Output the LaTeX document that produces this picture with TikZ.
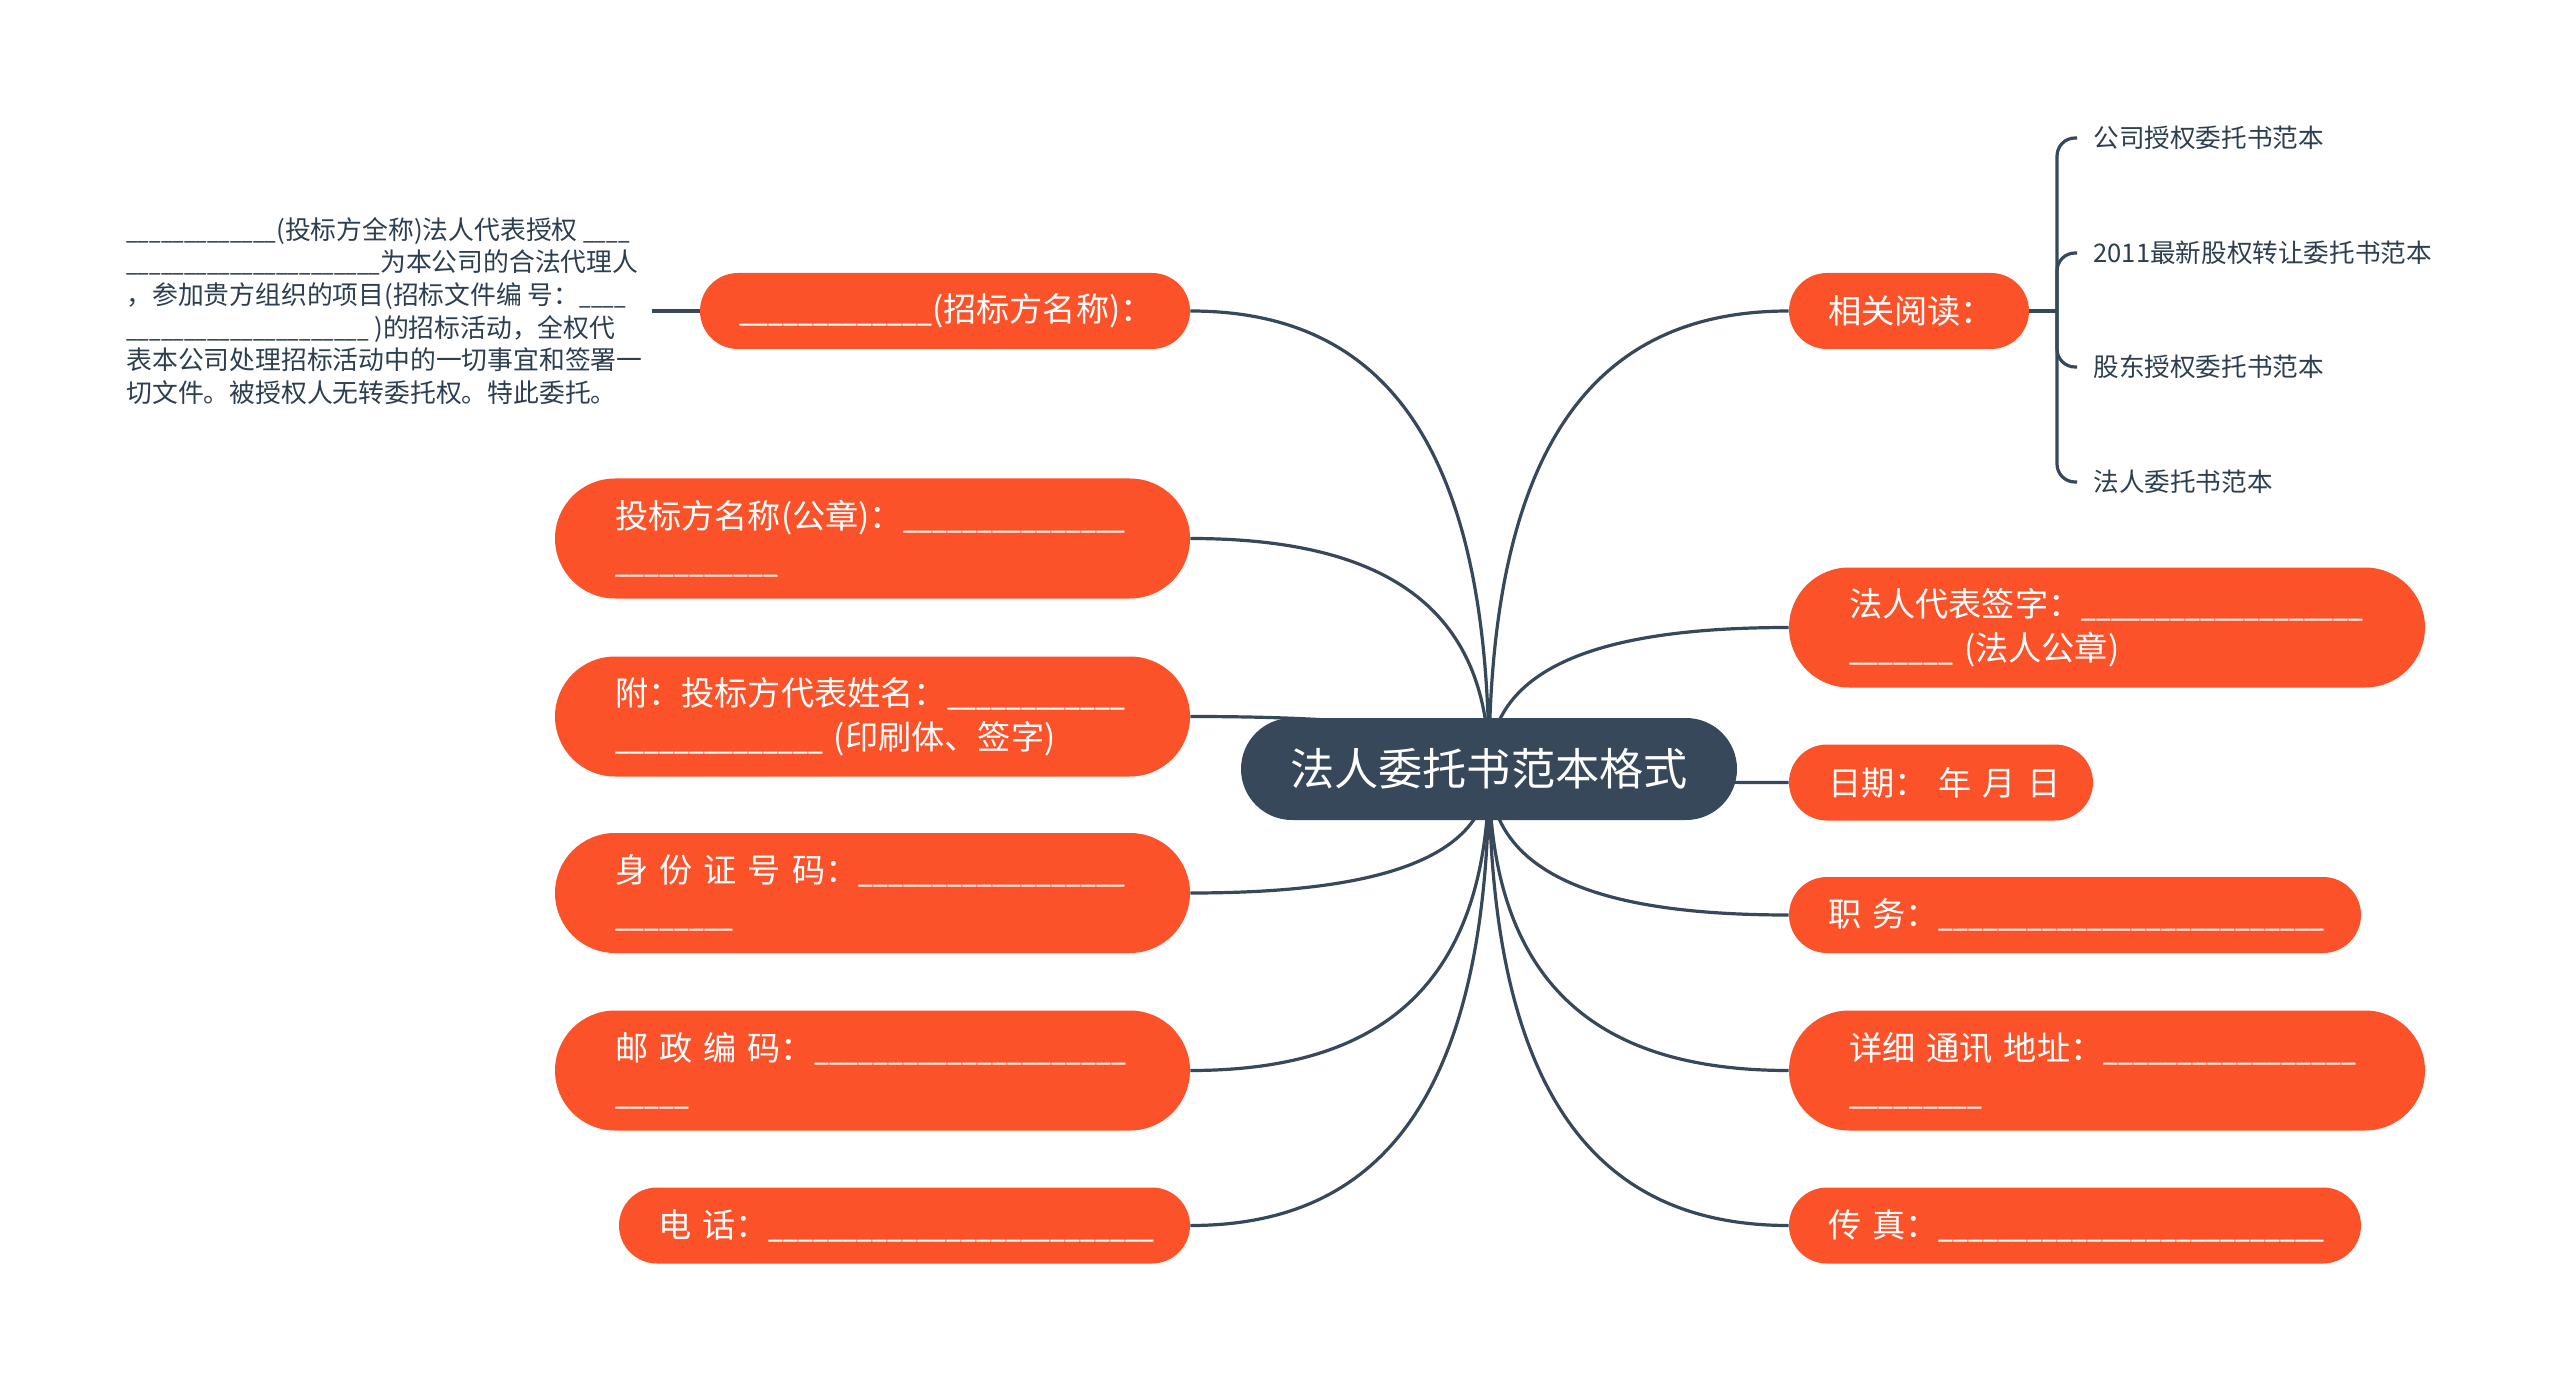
\documentclass[tikz,border=0pt]{standalone}
\usepackage{fontspec}
\usepackage{graphicx}
\newfontfamily\cjk{Noto Sans CJK SC}
\usetikzlibrary{backgrounds}
\ExplSyntaxOn
\cs_new:Npn \myus #1 {\scalebox{0.8}[1]{\prg_replicate:nn{#1}{\_}}}
\ExplSyntaxOff
\definecolor{org}{RGB}{252,82,42}
\definecolor{navy}{RGB}{54,72,90}
\definecolor{ink}{RGB}{44,62,80}
\begin{document}
\begin{tikzpicture}[x=0.5pt,y=0.5pt,
  leaf/.style={fill=org, text=white, font=\cjk\fontsize{16.6}{22}\selectfont, align=left, inner ysep=0pt},
  onel/.style={leaf, minimum height=38pt, rounded corners=19pt, inner xsep=19.5pt},
  twol/.style={leaf, minimum height=60pt, rounded corners=30pt, inner xsep=30pt},
  link/.style={draw=navy, line width=1.6pt},
  small/.style={font=\cjk\fontsize{12.8}{16}\selectfont, text=ink, align=left, inner xsep=8pt, inner ysep=2pt, anchor=west},
  block/.style={font=\cjk\fontsize{12.9}{16.3}\selectfont, text=ink, align=left, inner xsep=4.5pt, anchor=west}
]
\useasboundingbox (0,0) rectangle (2560,-1374);

% root
\node[fill=navy, text=white, font=\cjk\fontsize{22.1}{26}\selectfont, minimum width=248pt, minimum height=51pt, rounded corners=25.5pt, inner sep=0pt] (root) at (1489,-769) {法人委托书范本格式};

% left side
\node[onel, text width=206pt] (n1) at (945,-311) {\mbox{\myus{13}(招标方名称)：}};
\node[twol, text width=257.5pt] (n2) at (872.5,-538.5) {\mbox{投标方名称(公章)：\myus{15}}\\\mbox{\myus{11}}};
\node[twol, text width=257.5pt] (n3) at (872.5,-716.5) {\mbox{附：投标方代表姓名：\myus{12}}\\\mbox{\myus{14} (印刷体、签字)}};
\node[twol, text width=257.5pt] (n4) at (872.5,-893) {\mbox{身 份 证 号 码：\myus{18}}\\\mbox{\myus{8}}};
\node[twol, text width=257.5pt] (n5) at (872.5,-1070.5) {\mbox{邮 政 编 码：\myus{21}}\\\mbox{\myus{5}}};
\node[onel, text width=246.5pt] (n6) at (904.5,-1225.5) {\mbox{电 话：\myus{26}}};

\node[block] (blk) at (117,-311) {\myus{13}(投标方全称)法人代表授权 \myus{4}\\
\myus{22}为本公司的合法代理人\\
，参加贵方组织的项目(招标文件编 号：\myus{4}\\
\myus{21} )的招标活动，全权代\\
表本公司处理招标活动中的一切事宜和签署一\\
切文件。被授权人无转委托权。特此委托。};

% right side
\node[onel, text width=81pt] (r1) at (1909,-311) {\mbox{相关阅读：}};
\node[twol, text width=258pt] (r2) at (2107,-627.5) {\mbox{法人代表签字：\myus{19}}\\\mbox{\myus{7} (法人公章)}};
\node[onel, text width=113pt] (r3) at (1941,-782.5) {\mbox{日期： 年 月 日}};
\node[onel, text width=247pt] (r4) at (2075,-915) {\mbox{职 务：\myus{26}}};
\node[twol, text width=258pt] (r5) at (2107,-1070.5) {\mbox{详细 通讯 地址：\myus{17}}\\\mbox{\myus{9}}};
\node[onel, text width=247pt] (r6) at (2075,-1225.5) {\mbox{传 真：\myus{26}}};

\coordinate (j) at (2057,-311);
\node[small] (c1) at (2077,-138) {公司授权委托书范本};
\node[small] (c2) at (2077,-253) {2011最新股权转让委托书范本};
\node[small] (c3) at (2077,-367) {股东授权委托书范本};
\node[small] (c4) at (2077,-482) {法人委托书范本};

\begin{pgfonlayer}{background}
\fill[white] (0,0) rectangle (2560,-1374);
\draw[link] (root.center) .. controls +(0,343) and +(180,0) .. (n1.east);
\draw[link] (root.center) .. controls +(0,172) and +(180,0) .. (n2.east);
\draw[link] (root.center) .. controls +(0,39) and +(180,0) .. (n3.east);
\draw[link] (root.center) .. controls +(0,-93) and +(180,0) .. (n4.east);
\draw[link] (root.center) .. controls +(0,-226) and +(180,0) .. (n5.east);
\draw[link] (root.center) .. controls +(0,-342) and +(180,0) .. (n6.east);
\draw[link] (root.center) .. controls +(0,343) and +(-180,0) .. (r1.west);
\draw[link] (root.center) .. controls +(0,106) and +(-180,0) .. (r2.west);
\draw[link] (root.center) .. controls +(0,-10) and +(-180,0) .. (r3.west);
\draw[link] (root.center) .. controls +(0,-110) and +(-180,0) .. (r4.west);
\draw[link] (root.center) .. controls +(0,-226) and +(-180,0) .. (r5.west);
\draw[link] (root.center) .. controls +(0,-342) and +(-180,0) .. (r6.west);
\draw[link] (blk.east) -- (n1.west);
\draw[link] (r1.east) -- (j);
\draw[link, rounded corners=9pt] (j) |- (c1.west);
\draw[link, rounded corners=9pt] (j) |- (c2.west);
\draw[link, rounded corners=9pt] (j) |- (c3.west);
\draw[link, rounded corners=9pt] (j) |- (c4.west);
\end{pgfonlayer}
\end{tikzpicture}
\end{document}
